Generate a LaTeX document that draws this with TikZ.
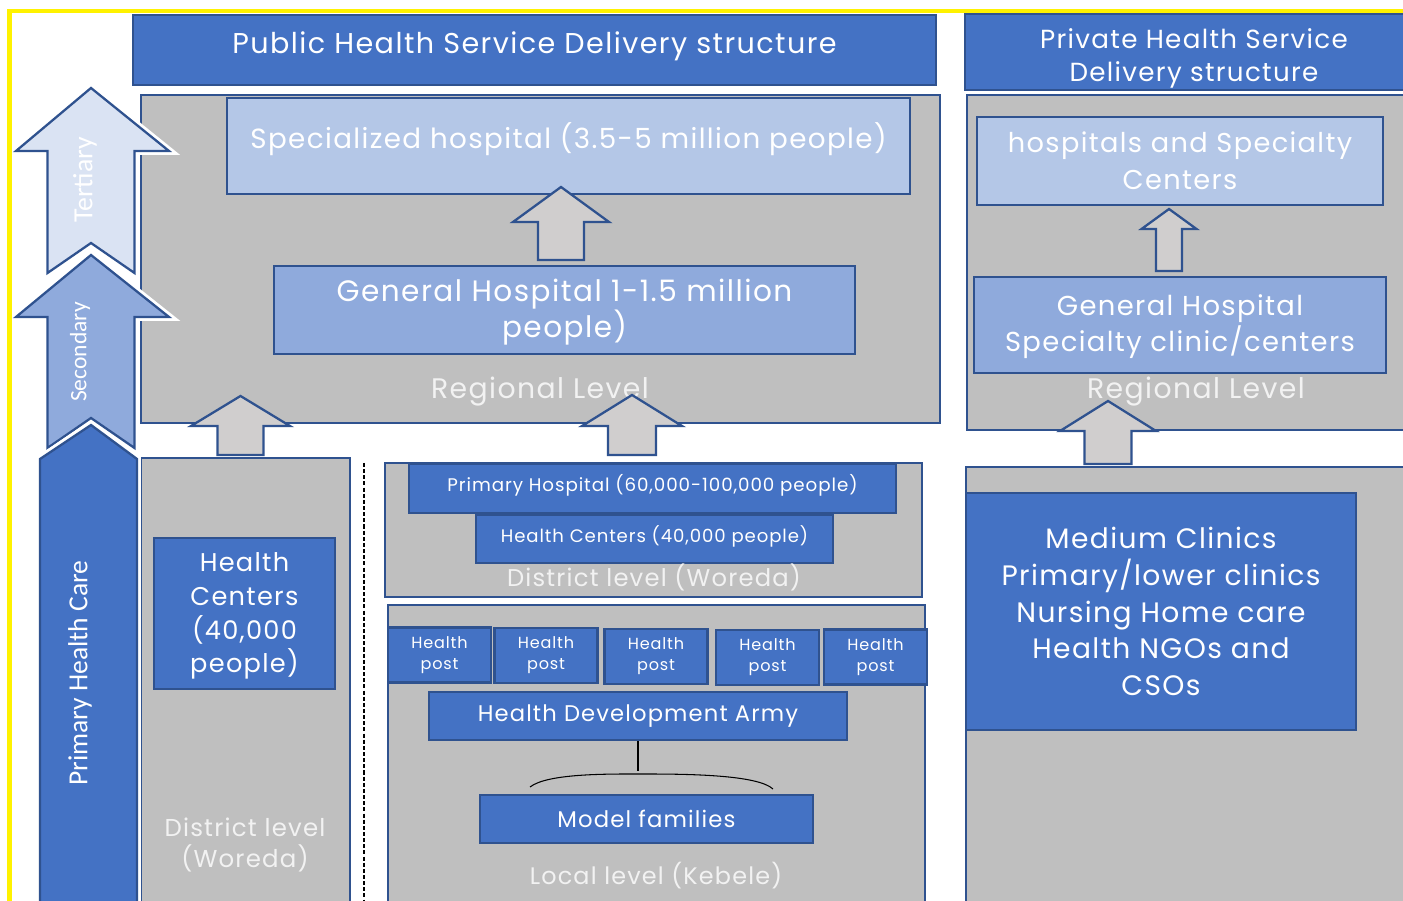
\documentclass[tikz,border=0pt]{standalone}
\usepackage{fontspec}
\setmainfont{Poppins}[LetterSpace=5]
\newfontfamily\calibri{Carlito}
\usepackage{tikz}
\usetikzlibrary{positioning}

\definecolor{hsblue}{HTML}{4472C4}
\definecolor{hsedge}{HTML}{2F528F}
\definecolor{hslight}{HTML}{B4C7E7}
\definecolor{hsmid}{HTML}{8FAADC}
\definecolor{hspale}{HTML}{DAE3F3}
\definecolor{hsgray}{HTML}{BFBFBF}
\definecolor{hsarrow}{HTML}{D0CECE}
\definecolor{hslevel}{HTML}{F2F2F2}

\newcommand{\fsz}[2]{\fontsize{#1}{#2}\selectfont}

% upward block arrow: style, x, tip, head base, foot, head half width, shaft half width
\newcommand{\levelarrow}[7]{%
  \draw[#1] (#2,#3) -- (#2+#6,#4) -- (#2+#7,#4) -- (#2+#7,#5)
    -- (#2-#7,#5) -- (#2-#7,#4) -- (#2-#6,#4) -- cycle;}

% care level arrow with a notched foot: fill, tip, head base, foot
\newcommand{\carearrow}[4]{%
  \draw[care_arrow, fill=#1] (91,#2) -- (169,#3) -- (134.5,#3) -- (134.5,#4)
    -- (91,#4-30) -- (47.5,#4) -- (47.5,#3) -- (16,#3) -- cycle;}

\begin{document}
\begin{tikzpicture}[x=0.02cm, y=-0.02cm,
    box_size/.style 2 args={minimum width=#1*0.02cm, minimum height=#2*0.02cm},
    any_box/.style={draw=hsedge, line width=1.3pt, inner sep=0pt, align=center, text=white},
    blue_box/.style={any_box, fill=hsblue},
    light_box/.style={any_box, fill=hslight},
    mid_box/.style={any_box, fill=hsmid},
    gray_box/.style={any_box, fill=hsgray},
    level_text/.style={text=hslevel, align=center, inner sep=0pt},
    gray_arrow/.style={draw=hsedge, line width=1.3pt, fill=hsarrow},
    care_arrow/.style={draw=hsedge, line width=1.3pt, preaction={draw=white, line width=4.5pt}},
    care_text/.style={rotate=90, text=white, inner sep=0pt}]

    \fill[white] (0,0) rectangle (1403,901);
    \clip (0,0) rectangle (1403,901);

    % headers
    \node[blue_box, box_size={803}{70}, font=\fsz{16.3}{20}, text height=12.6pt, text depth=9pt] (pubhead) at (534.5,50) {Public Health Service Delivery structure};
    \node[blue_box, box_size={458}{76}, font=\fsz{14.9}{18.8}, text height=35.2pt, text depth=2.1pt] (privhead) at (1194,52) {Private Health Service\\Delivery structure};

    % public regional level
    \node[gray_box, box_size={799}{328}] (pubreg) at (540.5,259) {};
    \node[light_box, box_size={683}{96}, font=\fsz{15.8}{20}, text height=12.3pt, text depth=9pt] (spechosp) at (568.5,146) {Specialized hospital (3.5-5 million people)};
    \node[mid_box, box_size={581}{88}, font=\fsz{16.8}{20.5}, text height=34pt, text depth=3pt] (genhosp) at (564.5,310) {General Hospital 1-1.5 million\\people)};
    \node[level_text, font=\fsz{16.1}{20}] (pubregtxt) at (540,392) {Regional Level};

    % private regional level
    \node[gray_box, box_size={453}{335}] (privreg) at (1193.5,262.5) {};
    \node[light_box, box_size={406}{88}, font=\fsz{15.5}{21}] (privspec) at (1180,161) {hospitals and Specialty\\Centers};
    \node[mid_box, box_size={412}{96}, font=\fsz{15.6}{20.5}, text height=33pt, text depth=2.8pt] (privgen) at (1180,325) {General Hospital\\Specialty clinic/centers};
    \node[level_text, font=\fsz{16.1}{20}] (privregtxt) at (1196,392) {Regional Level};

    % private lower level
    \node[gray_box, box_size={454}{453}] (privlow) at (1193,693.5) {};
    \node[blue_box, box_size={390}{237}, font=\fsz{16}{20.8}] (clinics) at (1161,611.5) {Medium Clinics\\Primary/lower clinics\\Nursing Home care\\Health NGOs and\\CSOs};

    % district level, left column
    \node[gray_box, box_size={209}{462}] (distleft) at (245.5,689) {};
    \node[blue_box, box_size={181}{151}, font=\fsz{14.6}{19.2}, text height=70pt, text depth=2.3pt] (hcleft) at (244.5,613.5) {Health\\Centers\\(40,000\\people)};
    \node[level_text, font=\fsz{13.9}{17.6}] (distlefttxt) at (245,845) {District level\\(Woreda)};

    \draw[dash pattern=on 2.3pt off 1.2pt, line width=1.3pt] (364,463) -- (364,901);

    % district level, middle column
    \node[gray_box, box_size={537}{134}] (distmid) at (653.5,530) {};
    \node[blue_box, box_size={487}{49}, font=\fsz{10.4}{12}, text height=9.9pt, text depth=6pt] (primhosp) at (652.5,488.5) {Primary Hospital (60,000-100,000 people)};
    \node[blue_box, box_size={357}{48}, font=\fsz{10.3}{12}, text height=10.1pt, text depth=5.75pt] (hcmid) at (654.5,539) {Health Centers (40,000 people)};
    \node[level_text, font=\fsz{13.8}{16}] (distmidtxt) at (654,577) {District level (Woreda)};

    % local level
    \node[gray_box, box_size={537}{315}] (local) at (656.5,762.5) {};
    \foreach \x/\y [count=\i] in {439.5/655, 546/655.5, 656/656.5, 767.5/657.5, 875.5/657}
        \node[blue_box, box_size={103}{55}, font=\fsz{9.15}{12}] (post\i) at (\x,\y) {Health\\post};
    \node[blue_box, box_size={418}{48}, font=\fsz{12.9}{15}] (hda) at (638,716) {Health Development Army};
    \node[blue_box, box_size={333}{48}, font=\fsz{12.95}{15}] (model) at (646.5,819) {Model families};
    \node[level_text, font=\fsz{13.6}{16}] (localtxt) at (656,876) {Local level (Kebele)};

    \draw[line width=1pt] (hda.south) -- ++(0,30);
    \draw[line width=0.6pt] (530,787) .. controls (548,773) and (610,774) .. (646,774)
        .. controls (690,774) and (758,775) .. (773,789);

    % arrows between levels
    \levelarrow{gray_arrow}{561}{187}{222}{260}{48}{23}
    \levelarrow{gray_arrow}{1169}{209}{229}{271}{27.5}{13}
    \levelarrow{gray_arrow}{240.5}{396}{426}{455}{49.5}{23}
    \levelarrow{gray_arrow}{632}{395}{426}{455}{50}{24}
    \levelarrow{gray_arrow}{1108}{401}{431}{464}{48}{23.5}

    % levels of care
    \carearrow{hspale}{88}{151}{273}
    \carearrow{hsmid}{255}{317}{448}
    \draw[care_arrow, fill=hsblue] (91,425) -- (137,459) -- (137,920) -- (40,920) -- (40,459) -- cycle;
    \node[care_text, font=\calibri\fsz{15.8}{18}] (tertiary) at (85,180) {Tertiary};
    \node[care_text, font=\calibri\fsz{13.4}{16}] (secondary) at (80,352) {Secondary};
    \node[care_text, font=\calibri\fsz{15.7}{18}] (phc) at (80,673) {Primary Health Care};

    \draw[yellow, line width=2.3pt] (9.5,920) -- (9.5,11.3) -- (1420,11.3);
\end{tikzpicture}
\end{document}
